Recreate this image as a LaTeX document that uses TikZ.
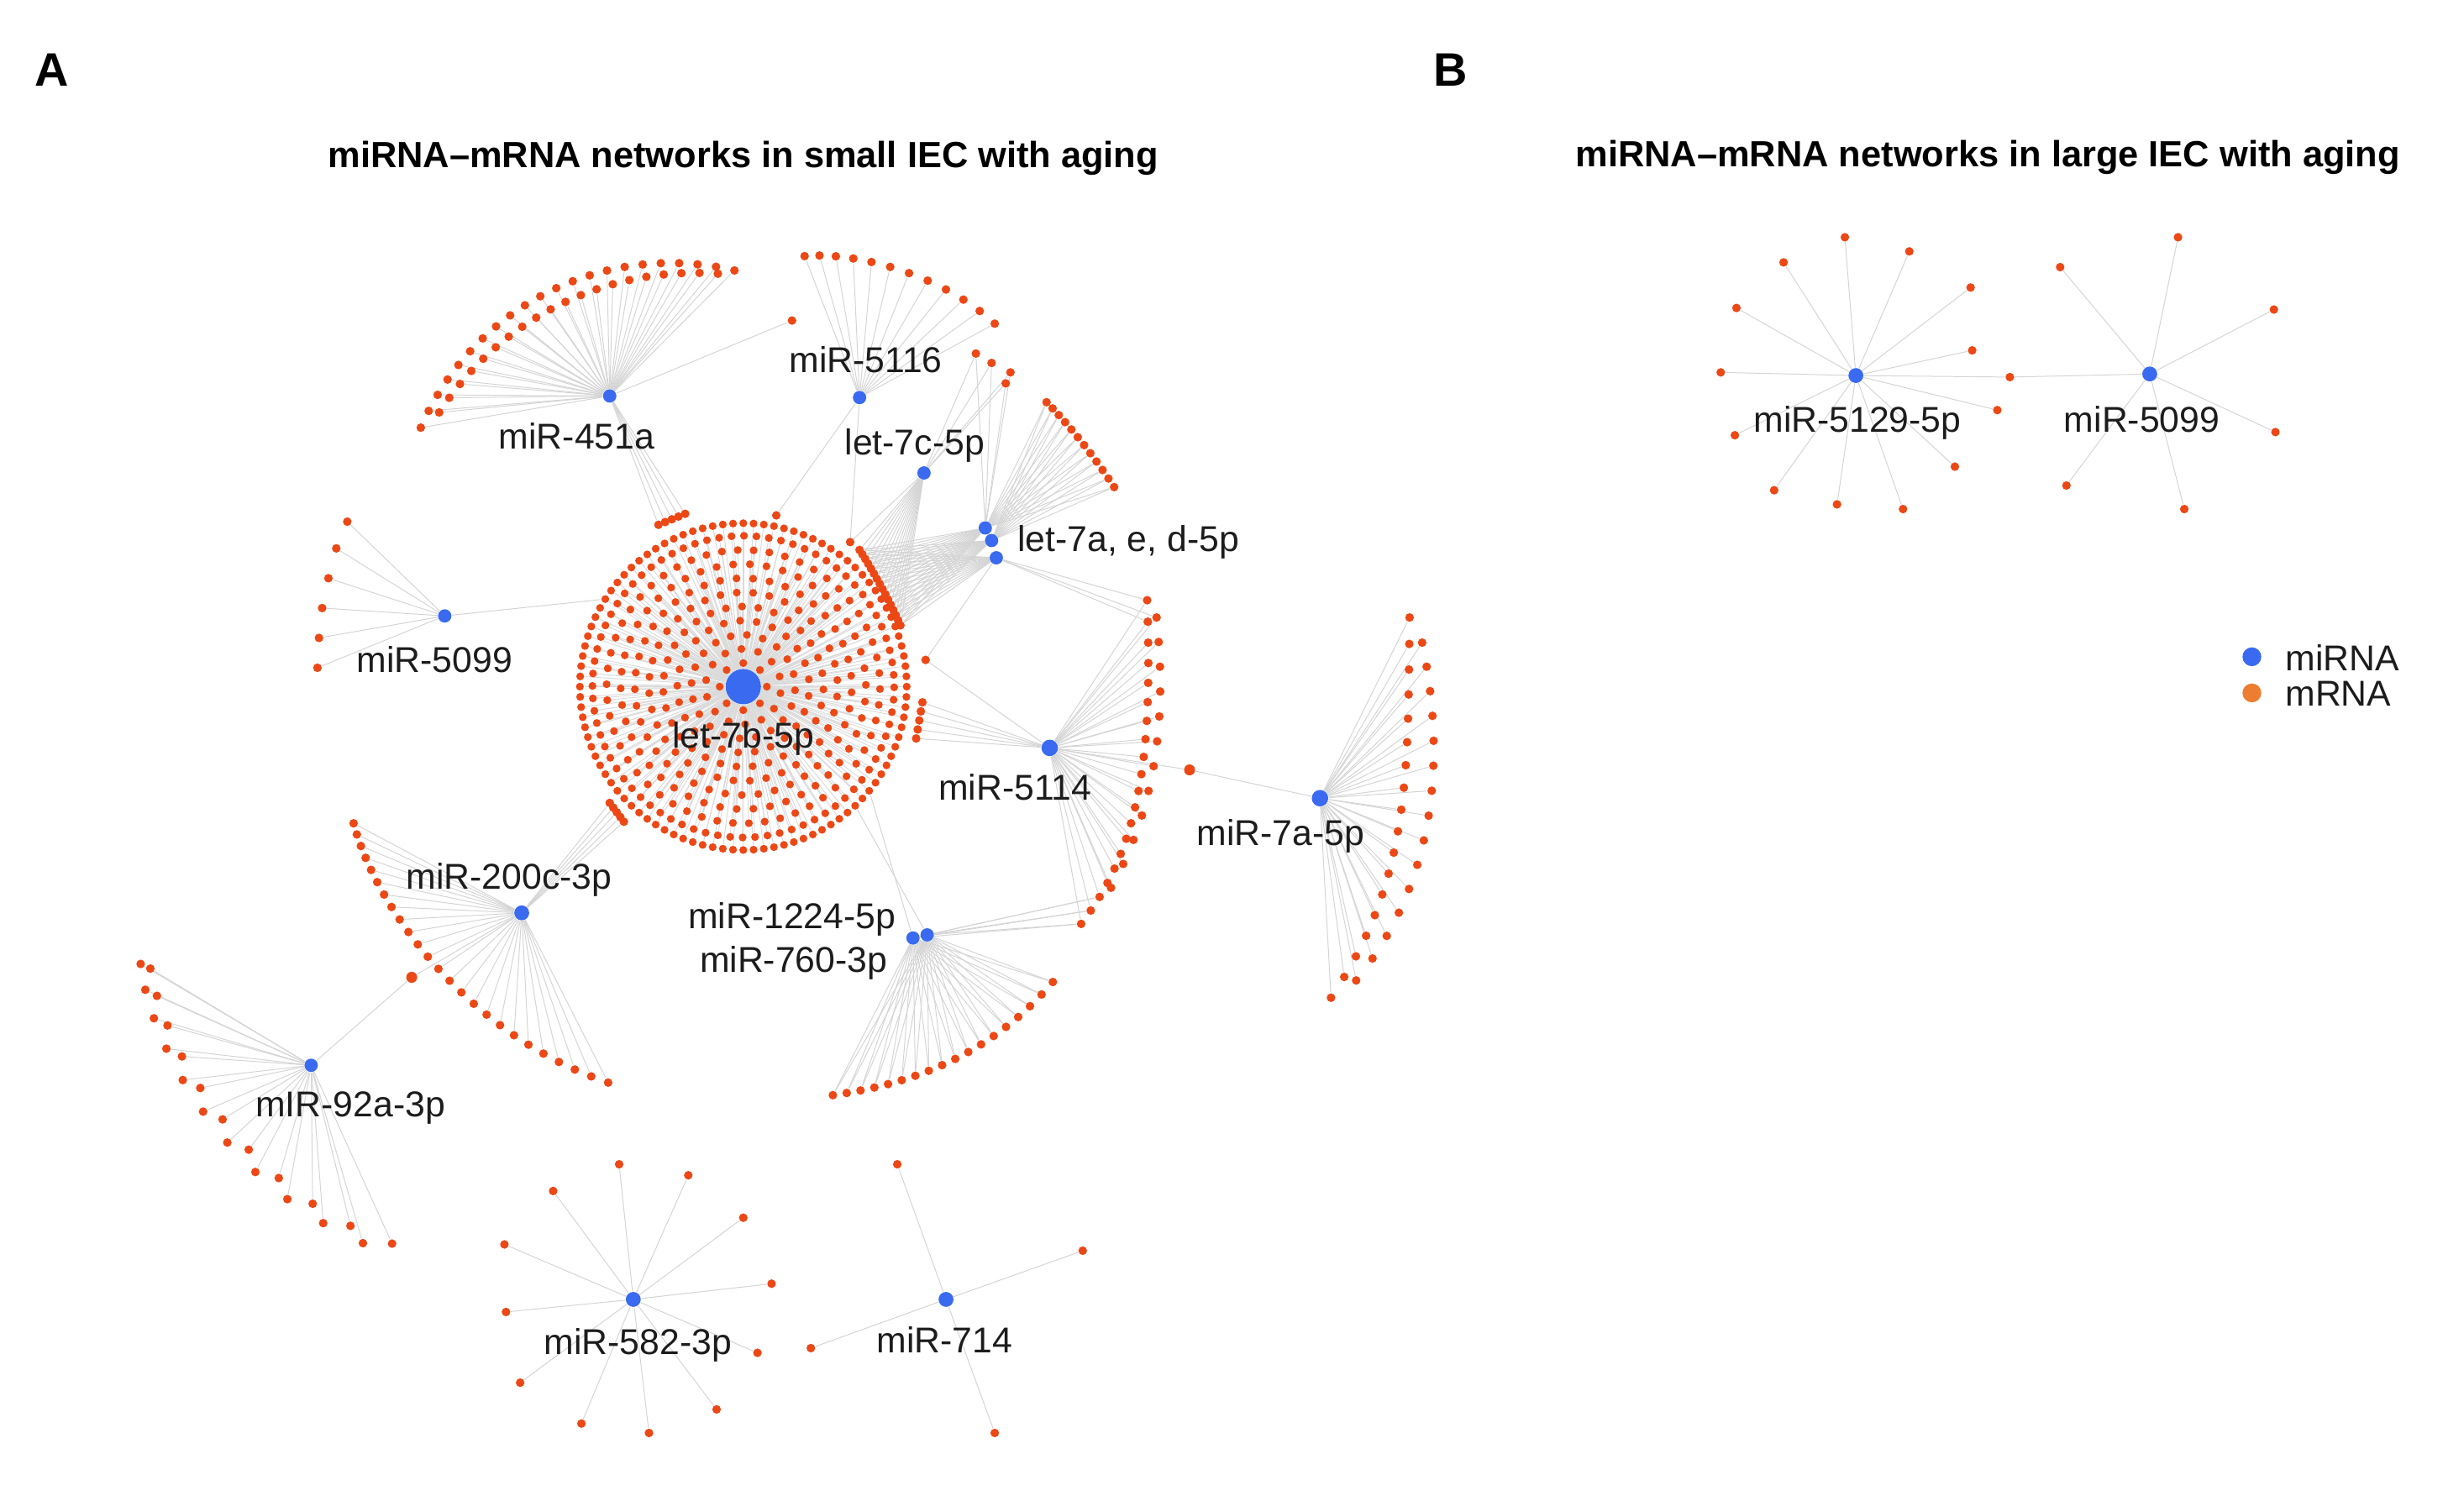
\documentclass[tikz,border=0pt]{standalone}
\usepackage{fontspec}
\setmainfont{Liberation Sans}
\pgfdeclarelayer{bg}
\pgfsetlayers{bg,main}
\definecolor{mrna}{RGB}{236,72,22}
\definecolor{mirna}{RGB}{58,106,240}
\definecolor{legor}{RGB}{237,125,49}
\definecolor{edgec}{RGB}{212,212,212}
\definecolor{txt}{RGB}{28,28,28}
\begin{document}
\begin{tikzpicture}[x=0.2mm,y=-0.2mm,
  declare function={bz(\pu,\pa,\pb,\pc,\pd)=(1-\pu)*(1-\pu)*(1-\pu)*\pa+3*(1-\pu)*(1-\pu)*\pu*\pb+3*(1-\pu)*\pu*\pu*\pc+\pu*\pu*\pu*\pd;},
  mr/.style={circle,fill=mrna,draw=none,inner sep=0pt,minimum size=1.1mm},
  mrd/.style={circle,fill=mrna,draw=none,inner sep=0pt,minimum size=1.0mm},
  mrb/.style={circle,fill=mrna,draw=none,inner sep=0pt,minimum size=1.4mm},
  mi/.style={circle,fill=mirna,draw=none,inner sep=0pt,minimum size=1.7mm},
  ed/.style={draw=edgec,line width=0.3pt},
  edd/.style={draw=edgec!85!white,line width=0.3pt},
  lbl/.style={font=\fontsize{13}{15}\selectfont,text=txt,inner sep=0pt,anchor=base},
  ttl/.style={font=\bfseries\fontsize{13.2}{15}\selectfont,inner sep=0pt,anchor=base},
  pnl/.style={font=\bfseries\fontsize{17}{20}\selectfont,inner sep=0pt,anchor=base}]
\useasboundingbox (0,0) rectangle (1568,952);

% ---------- panel letters and titles ----------
\node[pnl] (pA) at (33,55) {A};
\node[pnl] (pB) at (923,55) {B};
\node[ttl] (tA) at (473,106.5) {miRNA–mRNA networks in small IEC with aging};
\node[ttl] (tB) at (1265,106) {miRNA–mRNA networks in large IEC with aging};

% ---------- miRNA hubs ----------
\node[mi,minimum size=4.5mm] (h0) at (473,437) {};
\node[mi] (h1) at (388,252) {};
\node[mi] (h2) at (547,253) {};
\node[mi] (h3a) at (627,336) {};
\node[mi] (h3b) at (631,344) {};
\node[mi] (h3c) at (634,355) {};
\node[mi] (h4) at (588,301) {};
\node[mi] (h5) at (283,392) {};
\node[mi,minimum size=2.1mm] (h6) at (668,476) {};
\node[mi,minimum size=2.1mm] (h7) at (840,508) {};
\node[mi,minimum size=1.9mm] (h8) at (332,581) {};
\node[mi] (h9) at (198,678) {};
\node[mi] (h10a) at (581,597) {};
\node[mi] (h10b) at (590,595) {};
\node[mi,minimum size=1.9mm] (h11) at (403,827) {};
\node[mi,minimum size=1.9mm] (h12) at (602,827) {};
\node[mi,minimum size=1.9mm] (h13) at (1181,239) {};
\node[mi,minimum size=1.9mm] (h14) at (1368,238) {};

% ---------- let-7b-5p disk ----------
\def\ringlist{15/8/0,24/14/10,33/20/4,42/25/8,51/31/2,60/36/6,69/41/3,78/46/7,87/54/1,96/76/5,104/100/0}
\foreach \rr/\nn/\oo [count=\k] in \ringlist {
  \foreach \j in {1,...,\nn} {
    \pgfmathsetmacro\ang{\oo+\j*(360/\nn)}
    \node[mrd] (dk\k-\j) at ({473+\rr*cos(\ang)},{437+\rr*sin(\ang)}) {};
  }
}

% ---------- miR-451a ----------
\foreach \i in {0,...,21} {
  \pgfmathsetmacro\ang{198+91.5*\i/21}
  \pgfmathsetmacro\rad{149.5+0.003*(\ang-240)*(\ang-240)}
  \node[mr] (fa\i) at ({415+\rad*cos(\ang)},{320+\rad*sin(\ang)}) {};
}
\foreach \i in {0,...,19} {
  \pgfmathsetmacro\ang{203+83*\i/19}
  \pgfmathsetmacro\rad{139+0.006*(\ang-240)*(\ang-240)}
  \node[mr] (fb\i) at ({415+\rad*cos(\ang)},{320+\rad*sin(\ang)}) {};
}
\node[mr] (s1) at (504,204) {};
\foreach \i in {0,...,4} \node[mr] (ga\i) at ({419+4.25*\i},{334-1.75*\i}) {};

% ---------- miR-5116 ----------
\foreach \i in {0,...,11} {
  \pgfmathsetmacro\tp{\i/11}
  \node[mr] (fc\i) at ({bz(\tp,512,545,600,633)},{bz(\tp,163,160,175,206)}) {};
}
\node[mr] (t1) at (494,328) {};
\node[mr] (t2) at (541,345) {};

% ---------- let-7 groups ----------
\foreach \x/\y [count=\i] in {621/225,631/231,643/237,640/244} \node[mr] (gs\i) at (\x,\y) {};
\foreach \i in {0,...,11} {
  \pgfmathsetmacro\tp{\i/11}
  \node[mr] (gd\i) at ({bz(\tp,666,680,696,709)},{bz(\tp,256,270,290,310)}) {};
}
\foreach \i in {0,...,15} {
  \pgfmathsetmacro\tp{\i/15}
  \node[mr] (gc\i) at ({bz(\tp,547,556,566,573)},{bz(\tp,350,364,382,398)}) {};
}
\node[mr] (s2) at (589,420) {};
\foreach \i in {0,...,4} \node[mr] (ge\i) at ({587-1*\i},{447+5.75*\i}) {};

% ---------- miR-5099 (A) ----------
\foreach \x/\y [count=\i] in {221/332,214/349,209/368,205/387,203/406,202/425} \node[mr] (fe\i) at (\x,\y) {};

% ---------- miR-5114 ----------
\foreach \i in {0,...,19} {
  \pgfmathsetmacro\tp{\i/19}
  \node[mr] (fk\i) at ({bz(\tp,730,733,729,688)},{bz(\tp,382,470,535,588)}) {};
}
\foreach \i in {0,...,11} {
  \pgfmathsetmacro\tp{\i/11}
  \node[mr] (fl\i) at ({bz(\tp,736,742,738,707)},{bz(\tp,393,450,510,565)}) {};
}
\node[mrb] (b1) at (757,490) {};

% ---------- miR-7a-5p ----------
\foreach \i in {0,...,17} {
  \pgfmathsetmacro\tp{\i/17}
  \node[mr] (fm\i) at ({bz(\tp,897,896,898,847)},{bz(\tp,393,490,560,635)}) {};
}
\foreach \i in {0,...,14} {
  \pgfmathsetmacro\tp{\i/14}
  \node[mr] (fn\i) at ({bz(\tp,905,920,915,863)},{bz(\tp,409,480,560,624)}) {};
}

% ---------- miR-200c-3p ----------
\foreach \i in {0,...,24} {
  \pgfmathsetmacro\tp{\i/24}
  \node[mr] (fp\i) at ({bz(\tp,225,240,300,387)},{bz(\tp,524,580,660,689)}) {};
}
\foreach \i in {0,...,4} \node[mr] (gf\i) at ({388+2.25*\i},{511+3*\i}) {};
\node[mrb] (b2) at (262,622) {};

% ---------- miR-92a-3p ----------
\foreach \i in {0,...,21} {
  \pgfmathsetmacro\tp{\i/21}
  \pgfmathsetmacro\sg{2.5*(2*mod(\i,2)-1)}
  \node[mr] (fq\i) at ({bz(\tp,92,98,150,247)+\sg},{bz(\tp,611,665,760,794)-\sg}) {};
}

% ---------- miR-1224-5p / miR-760-3p ----------
\foreach \i in {0,...,17} {
  \pgfmathsetmacro\tp{\i/17}
  \node[mr] (fr\i) at ({bz(\tp,530,580,630,670)},{bz(\tp,697,690,672,625)}) {};
}

% ---------- miR-582-3p and miR-714 ----------
\foreach \x/\y [count=\i] in {394/741,438/748,473/775,491/817,482/861,456/897,413/912,370/906,331/880,322/835,321/792,352/758} \node[mr] (fs\i) at (\x,\y) {};
\foreach \x/\y [count=\i] in {571/741,689/796,633/912,516/858} \node[mr] (ft\i) at (\x,\y) {};

% ---------- panel B ----------
\foreach \x/\y [count=\i] in {1174/151,1215/160,1135/167,1254/183,1105/196,1255/223,1095/237,1279/240,1271/261,1104/277,1244/297,1129/312,1169/321,1211/324} \node[mr] (fu\i) at (\x,\y) {};
\foreach \x/\y [count=\i] in {1386/151,1311/170,1447/197,1448/275,1315/309,1390/324} \node[mr] (fv\i) at (\x,\y) {};

% ---------- edges ----------
\begin{pgfonlayer}{bg}
\foreach \rr/\nn/\oo [count=\k] in \ringlist {
  \foreach \j in {1,...,\nn} { \draw[edd] (h0) -- (dk\k-\j); }
}
\foreach \i in {0,...,21} \draw[ed] (h1) -- (fa\i);
\foreach \i in {0,...,19} \draw[ed] (h1) -- (fb\i);
\draw[ed] (h1) -- (s1);
\foreach \i in {0,...,4} \draw[ed] (h1) -- (ga\i);
\foreach \i in {0,...,11} \draw[ed] (h2) -- (fc\i);
\draw[ed] (h2) -- (t1);
\draw[ed] (h2) -- (t2);
\foreach \i in {1,...,4} { \draw[ed] (h3a) -- (gs\i); \draw[ed] (h4) -- (gs\i); }
\foreach \i in {0,...,11} { \draw[ed] (h3a) -- (gd\i); \draw[ed] (h3b) -- (gd\i); }
\foreach \i in {0,...,15} { \draw[ed] (h3a) -- (gc\i); \draw[ed] (h3b) -- (gc\i); \draw[ed] (h3c) -- (gc\i); \draw[ed] (h4) -- (gc\i); }
\draw[ed] (h4) -- (t2);
\draw[ed] (h3c) -- (s2);
\draw[ed] (h6) -- (s2);
\foreach \i in {0,1} \draw[ed] (h3c) -- (fk\i);
\draw[ed] (h3c) -- (fl0);
\foreach \i in {0,...,4} \draw[ed] (h6) -- (ge\i);
\foreach \i in {1,...,6} \draw[ed] (h5) -- (fe\i);
\draw[ed] (h5) -- (dk11-59);
\foreach \i in {0,...,19} \draw[ed] (h6) -- (fk\i);
\foreach \i in {0,...,11} \draw[ed] (h6) -- (fl\i);
\draw[ed] (h6) -- (b1);
\draw[ed] (h7) -- (b1);
\foreach \i in {0,...,17} \draw[ed] (h7) -- (fm\i);
\foreach \i in {0,...,14} \draw[ed] (h7) -- (fn\i);
\foreach \i in {0,...,24} \draw[ed] (h8) -- (fp\i);
\foreach \i in {0,...,4} \draw[ed] (h8) -- (gf\i);
\draw[ed] (h8) -- (b2);
\draw[ed] (h9) -- (b2);
\foreach \i in {0,...,21} \draw[ed] (h9) -- (fq\i);
\foreach \i in {0,...,17} { \draw[ed] (h10a) -- (fr\i); \draw[ed] (h10b) -- (fr\i); }
\foreach \i in {17,18,19} { \draw[ed] (h10a) -- (fk\i); \draw[ed] (h10b) -- (fk\i); }
\draw[ed] (h10a) -- (dk11-11);
\draw[ed] (h10b) -- (dk11-13);
\foreach \i in {1,...,12} \draw[ed] (h11) -- (fs\i);
\foreach \i in {1,...,4} \draw[ed] (h12) -- (ft\i);
\foreach \i in {1,...,14} \draw[ed] (h13) -- (fu\i);
\foreach \i in {1,...,6} \draw[ed] (h14) -- (fv\i);
\draw[ed] (h14) -- (fu8);
\end{pgfonlayer}

% ---------- labels ----------
\node[lbl] (l1) at (367,285.5) {miR-451a};
\node[lbl] (l2) at (551,237) {miR-5116};
\node[lbl] (l3) at (582,289.5) {let-7c-5p};
\node[lbl] (l4) at (718,351) {let-7a, e, d-5p};
\node[lbl] (l5) at (276.5,428) {miR-5099};
\node[lbl] (l0) at (473,476) {let-7b-5p};
\node[lbl] (l6) at (646,509) {miR-5114};
\node[lbl] (l7) at (815,538) {miR-7a-5p};
\node[lbl] (l8) at (324,566) {miR-200c-3p};
\node[lbl] (l10a) at (504,591) {miR-1224-5p};
\node[lbl] (l10b) at (505,619) {miR-760-3p};
\node[lbl] (l9) at (223,711) {mIR-92a-3p};
\node[lbl] (l11) at (406,862) {miR-582-3p};
\node[lbl] (l12) at (601,861) {miR-714};
\node[lbl] (l13) at (1182,275) {miR-5129-5p};
\node[lbl] (l14) at (1363,275) {miR-5099};

% ---------- legend ----------
\node[circle,fill=mirna,inner sep=0pt,minimum size=2.4mm] (kb) at (1433,418) {};
\node[circle,fill=legor,inner sep=0pt,minimum size=2.4mm] (ko) at (1433,441) {};
\node[lbl,anchor=base west] (kbt) at (1454,427) {miRNA};
\node[lbl,anchor=base west] (kot) at (1454,449.5) {mRNA};
\end{tikzpicture}
\end{document}
